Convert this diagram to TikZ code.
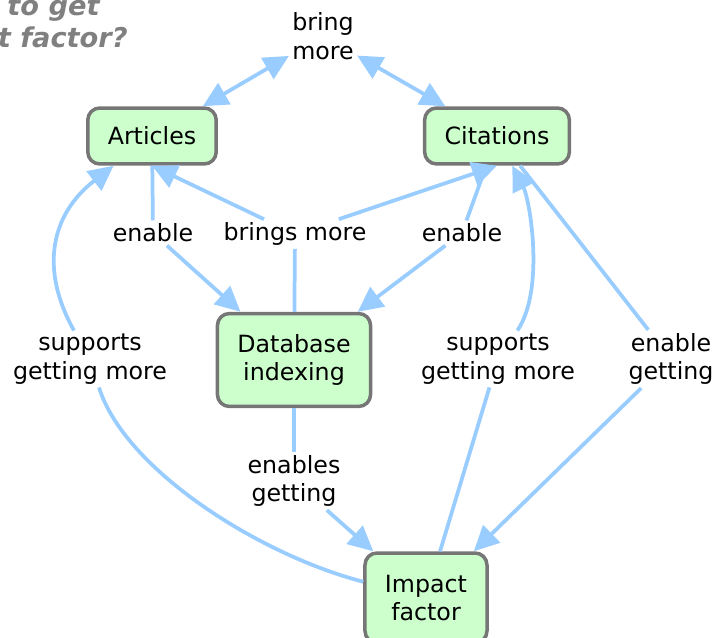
\documentclass[tikz,border=0pt]{standalone}
\usepackage{fontspec}
\setmainfont{DejaVu Sans}[ItalicFont={DejaVu Sans Oblique},BoldFont={DejaVu Sans Bold},BoldItalicFont={DejaVu Sans Bold Oblique}]
\usetikzlibrary{arrows.meta}
\definecolor{conceptfill}{RGB}{204,255,204}
\definecolor{conceptedge}{RGB}{118,118,118}
\definecolor{linkblue}{RGB}{153,204,255}
\definecolor{titlegray}{RGB}{128,128,128}

\begin{document}
\begin{tikzpicture}[x=0.02cm,y=-0.02cm]
		\tikzset{concept/.style = {shape=rectangle, rounded corners=0.24cm, draw=conceptedge, line width=0.07cm, fill=conceptfill, align=center, inner xsep=0.4cm, minimum height=1.12cm, font=\fontsize{13.5}{16.3}\selectfont}}
		\tikzset{phrase/.style = {align=center, inner sep=0.06cm, font=\fontsize{13.5}{16.3}\selectfont}}
		\tikzset{linktip/.tip = {Triangle[length=0.5cm,width=0.48cm]}}
		\tikzset{plain/.style = {draw=linkblue, line width=0.075cm}}
		\tikzset{link/.style = {plain, -linktip}}

		\useasboundingbox (0,0) rectangle (717,638);

		\node[text=titlegray, font=\fontsize{15.5}{18}\selectfont\bfseries\itshape, anchor=base east, inner sep=0pt] (T_1) at (100,16) {to get};
		\node[text=titlegray, font=\fontsize{15.5}{18}\selectfont\bfseries\itshape, anchor=base east, inner sep=0pt] (T_2) at (128,48) {t factor?};

		\node[concept] (Articles) at (152,136) {Articles};
		\node[concept] (Citations) at (497,136) {Citations};
		\node[concept, minimum height=1.86cm] (Database) at (294,360) {Database\\indexing};
		\node[concept, minimum height=1.8cm] (Impact) at (426,598) {Impact\\factor};

		\node[phrase] (bring) at (323,36) {bring\\more};
		\node[phrase] (enable_A) at (153,233) {enable};
		\node[phrase] (brings) at (295,234) {brings more};
		\node[phrase] (enable_C) at (462,233) {enable};
		\node[phrase] (supp_L) at (90,359) {supports\\getting more};
		\node[phrase] (supp_R) at (498,359) {supports\\getting more};
		\node[phrase] (enable_G) at (671,359) {enable\\getting};
		\node[phrase] (enables_G) at (294,481) {enables\\getting};


		\draw[plain, linktip-linktip] (bring)--(Articles);
		\draw[plain, linktip-linktip] (bring)--(Citations);
		\draw[plain] (Articles)--(enable_A);
		\draw[link] (enable_A)--(Database);
		\draw[plain] (Database)--(brings);
		\draw[link] (brings)--(Articles.south);
		\draw[link] (brings)--(Citations.south);
		\draw[plain] (Citations)--(enable_C);
		\draw[link] (enable_C)--(Database);
		\draw[plain] (Impact) .. controls (260,555) and (125,470) .. (supp_L);
		\draw[link] (supp_L) .. controls (40,270) and (50,215) .. (Articles);
		\draw[plain] (Impact)--(supp_R);
		\draw[link] (supp_R) .. controls (545,290) and (530,200) .. (Citations);
		\draw[plain] (Citations)--(enable_G);
		\draw[link] (enable_G)--(Impact);
		\draw[plain] (Database)--(enables_G);
		\draw[link] (enables_G)--(Impact);

	\end{tikzpicture}
\end{document}
